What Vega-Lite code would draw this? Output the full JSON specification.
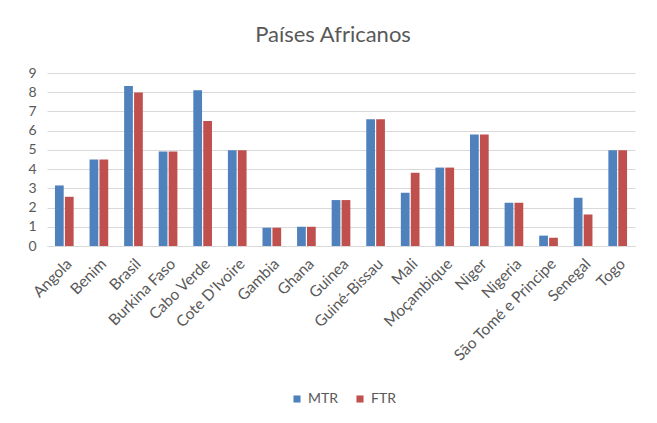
{
  "$schema": "https://vega.github.io/schema/vega-lite/v6.json",
  "autosize": "none",
  "width": 588,
  "height": 173,
  "padding": {"left": 47, "top": 73, "right": 22, "bottom": 177},
  "background": "white",
  "title": {
    "text": "Países Africanos",
    "anchor": "middle",
    "dx": -8,
    "offset": 2,
    "baseline": "alphabetic",
    "font": "Lato",
    "fontSize": 22,
    "fontWeight": "normal",
    "color": "#595959"
  },
  "data": {
    "values": [
      {"pais": "Angola", "grupo": "MTR", "valor": 3.15},
      {"pais": "Angola", "grupo": "FTR", "valor": 2.56},
      {"pais": "Benim", "grupo": "MTR", "valor": 4.5},
      {"pais": "Benim", "grupo": "FTR", "valor": 4.5},
      {"pais": "Brasil", "grupo": "MTR", "valor": 8.32},
      {"pais": "Brasil", "grupo": "FTR", "valor": 7.99},
      {"pais": "Burkina Faso", "grupo": "MTR", "valor": 4.91},
      {"pais": "Burkina Faso", "grupo": "FTR", "valor": 4.91},
      {"pais": "Cabo Verde", "grupo": "MTR", "valor": 8.1},
      {"pais": "Cabo Verde", "grupo": "FTR", "valor": 6.5},
      {"pais": "Cote D'Ivoire", "grupo": "MTR", "valor": 4.98},
      {"pais": "Cote D'Ivoire", "grupo": "FTR", "valor": 4.98},
      {"pais": "Gambia", "grupo": "MTR", "valor": 0.95},
      {"pais": "Gambia", "grupo": "FTR", "valor": 0.95},
      {"pais": "Ghana", "grupo": "MTR", "valor": 1.0},
      {"pais": "Ghana", "grupo": "FTR", "valor": 1.0},
      {"pais": "Guinea", "grupo": "MTR", "valor": 2.39},
      {"pais": "Guinea", "grupo": "FTR", "valor": 2.39},
      {"pais": "Guiné-Bissau", "grupo": "MTR", "valor": 6.59},
      {"pais": "Guiné-Bissau", "grupo": "FTR", "valor": 6.59},
      {"pais": "Mali", "grupo": "MTR", "valor": 2.77},
      {"pais": "Mali", "grupo": "FTR", "valor": 3.81},
      {"pais": "Moçambique", "grupo": "MTR", "valor": 4.08},
      {"pais": "Moçambique", "grupo": "FTR", "valor": 4.08},
      {"pais": "Niger", "grupo": "MTR", "valor": 5.8},
      {"pais": "Niger", "grupo": "FTR", "valor": 5.8},
      {"pais": "Nigeria", "grupo": "MTR", "valor": 2.25},
      {"pais": "Nigeria", "grupo": "FTR", "valor": 2.25},
      {"pais": "São Tomé e Principe", "grupo": "MTR", "valor": 0.54},
      {"pais": "São Tomé e Principe", "grupo": "FTR", "valor": 0.43},
      {"pais": "Senegal", "grupo": "MTR", "valor": 2.51},
      {"pais": "Senegal", "grupo": "FTR", "valor": 1.64},
      {"pais": "Togo", "grupo": "MTR", "valor": 4.98},
      {"pais": "Togo", "grupo": "FTR", "valor": 4.98}
    ]
  },
  "mark": {"type": "bar"},
  "encoding": {
    "x": {
      "field": "pais",
      "type": "nominal",
      "sort": null,
      "title": null,
      "scale": {"paddingInner": 0.46, "paddingOuter": 0.23},
      "axis": {
        "labelAngle": -45,
        "labelFont": "Lato",
        "labelFontSize": 15.5,
        "labelColor": "#595959",
        "labelPadding": 10,
        "ticks": false,
        "domainColor": "#d9d9d9",
        "domainWidth": 1
      }
    },
    "xOffset": {
      "field": "grupo",
      "type": "nominal",
      "sort": ["MTR", "FTR"],
      "scale": {"paddingInner": 0.12}
    },
    "y": {
      "field": "valor",
      "type": "quantitative",
      "title": null,
      "scale": {"domain": [0, 9], "nice": false},
      "axis": {
        "values": [0, 1, 2, 3, 4, 5, 6, 7, 8, 9],
        "labelFont": "Lato",
        "labelFontSize": 14,
        "labelColor": "#595959",
        "labelPadding": 11,
        "ticks": false,
        "domain": false,
        "gridColor": "#d9d9d9",
        "gridWidth": 1
      }
    },
    "color": {
      "field": "grupo",
      "type": "nominal",
      "sort": ["MTR", "FTR"],
      "scale": {"domain": ["MTR", "FTR"], "range": ["#4F81BD", "#C0504D"]},
      "legend": {
        "title": null,
        "orient": "none",
        "direction": "horizontal",
        "legendX": 243,
        "legendY": 319,
        "symbolType": "square",
        "symbolSize": 50,
        "symbolStrokeWidth": 0,
        "labelFont": "Lato",
        "labelFontSize": 14,
        "labelColor": "#595959",
        "labelOffset": 4,
        "columnPadding": 14
      }
    }
  },
  "config": {"view": {"stroke": null}}
}
